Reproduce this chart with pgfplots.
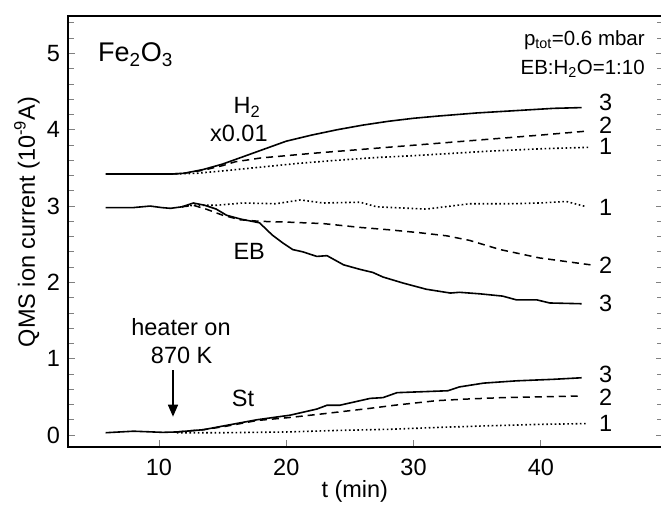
\documentclass[border=0pt]{standalone}
\usepackage{fontspec}
\setmainfont{Liberation Sans}
\usepackage{pgfplots}
\pgfplotsset{compat=1.18}
\usetikzlibrary{arrows.meta}
\begin{document}
\fontsize{23.5}{28}\selectfont
\begin{tikzpicture}
\useasboundingbox (-68pt,-59pt) rectangle (593pt,447pt);
\begin{axis}[at={(0,0)}, anchor=south west, width=595pt, height=431pt, scale only axis,
  xmin=2.85, xmax=49.6, ymin=-0.157, ymax=5.49,
  xtick={10,20,30,40}, ytick={0,1,2,3,4,5},
  minor ytick={0.2,0.4,0.6,0.8,1.2,1.4,1.6,1.8,2.2,2.4,2.6,2.8,3.2,3.4,3.6,3.8,4.2,4.4,4.6,4.8,5.2,5.4},
  xtick pos=left, ytick pos=both, tick align=inside,
  major tick length=7pt, minor tick length=6pt,
  tick style={gray, line width=0.8pt},
  axis line style={line width=1.8pt},
  xticklabel style={yshift=-4pt},
  /pgf/number format/assume math mode=true,
  xlabel={t (min)}, ylabel={QMS ion current (10\textsuperscript{-9}A)},
  xlabel style={at={(axis description cs:0.482,-0.104)}, anchor=center},
  ylabel style={at={(axis description cs:-0.069,0.522)}, anchor=center},
  clip=false]
% H2 x0.01
\addplot[black, line width=1.6pt] coordinates {(5.8,3.42)(11,3.42)(12,3.43)(13.5,3.48)(15,3.55)(16.5,3.64)(18,3.73)(20,3.85)(22,3.93)(24,4.0)(26,4.06)(28,4.11)(30,4.15)(32,4.18)(35,4.22)(38,4.25)(41,4.28)(43.2,4.29)};
\addplot[black, line width=1.5pt, dash pattern=on 7pt off 5pt] coordinates {(11,3.42)(12,3.43)(13.5,3.47)(15,3.53)(16,3.58)(18,3.63)(20,3.66)(22,3.69)(25,3.73)(28,3.77)(31,3.81)(34,3.85)(37,3.89)(40,3.93)(43.5,3.98)};
\addplot[black, line width=1.6pt, dash pattern=on 1.6pt off 2.6pt] coordinates {(11,3.42)(13,3.43)(15,3.46)(18,3.51)(21,3.56)(24,3.60)(27,3.635)(30,3.66)(33,3.69)(36,3.72)(40,3.75)(43.9,3.77)};
% EB
\addplot[black, line width=1.6pt] coordinates {(5.8,2.98)(8,2.98)(9.3,3.0)(10.2,2.98)(10.9,2.97)(11.8,2.99)(12.7,3.04)(13.6,3.01)(14.5,2.96)(15.3,2.88)(16.4,2.83)(17.9,2.78)(18.9,2.62)(19.7,2.52)(20.5,2.43)(21.3,2.40)(22.4,2.34)(23.2,2.35)(24.5,2.23)(25.8,2.17)(26.8,2.13)(27.6,2.07)(29.2,1.99)(31,1.91)(32.9,1.86)(33.6,1.87)(35.2,1.85)(37,1.82)(38.1,1.77)(39.7,1.77)(40.7,1.73)(43.2,1.72)};
\addplot[black, line width=1.5pt, dash pattern=on 7pt off 5pt] coordinates {(11.8,2.99)(12.7,3.01)(13.7,2.96)(15,2.88)(16.4,2.82)(17.9,2.80)(20,2.79)(22.9,2.77)(25.8,2.72)(28,2.69)(30.5,2.65)(32.6,2.61)(34.4,2.55)(36.8,2.43)(39.9,2.32)(43.9,2.23)};
\addplot[black, line width=1.6pt, dash pattern=on 1.6pt off 2.6pt] coordinates {(11.8,2.99)(12.7,3.01)(14.5,3.01)(16.6,3.04)(19.2,3.03)(21.1,3.08)(22.9,3.04)(25.8,3.05)(27.1,2.99)(31,2.96)(34.4,3.03)(37.6,3.03)(39.9,3.04)(42,3.06)(43.6,2.99)};
% St
\addplot[black, line width=1.6pt] coordinates {(5.8,0.03)(8,0.05)(10.3,0.035)(11.4,0.04)(13.5,0.07)(15.1,0.12)(17.7,0.20)(20.3,0.26)(22.4,0.34)(23.2,0.39)(24.2,0.39)(26.6,0.48)(27.6,0.49)(28.7,0.555)(32.7,0.58)(33.6,0.63)(35.5,0.68)(38.1,0.71)(41,0.73)(43.2,0.75)};
\addplot[black, line width=1.5pt, dash pattern=on 7pt off 5pt] coordinates {(11.4,0.04)(13.5,0.07)(15.1,0.11)(17.7,0.19)(20.3,0.23)(23,0.28)(26.6,0.35)(28.5,0.39)(31.8,0.45)(34,0.47)(37,0.49)(40,0.50)(42.9,0.51)};
\addplot[black, line width=1.6pt, dash pattern=on 1.6pt off 2.6pt] coordinates {(11.4,0.03)(15,0.03)(20,0.04)(24,0.06)(28.1,0.075)(32,0.1)(35.7,0.12)(40,0.14)(43.7,0.15)};
% annotations
\node[anchor=base west, inner sep=0pt, font=\fontsize{27}{32}\selectfont] at (axis cs:5.21,4.89) {Fe\textsubscript{2}O\textsubscript{3}};
\node[anchor=base east, inner sep=0pt, font=\fontsize{20.5}{24}\selectfont] at (axis cs:48.18,5.11) {p\textsubscript{tot}=0.6 mbar};
\node[anchor=base east, inner sep=0pt, font=\fontsize{20.5}{24}\selectfont] at (axis cs:48.18,4.72) {EB:H\textsubscript{2}O=1:10};
\node[anchor=base west, inner sep=0pt] at (axis cs:15.84,4.21) {H\textsubscript{2}};
\node[anchor=base west, inner sep=0pt] at (axis cs:14.0,3.85) {x0.01};
\node[anchor=base west, inner sep=0pt] at (axis cs:15.84,2.30) {EB};
\node[anchor=base, inner sep=0pt] at (axis cs:11.73,1.31) {heater on};
\node[anchor=base, inner sep=0pt] at (axis cs:11.78,0.94) {870 K};
\node[anchor=base west, inner sep=0pt] at (axis cs:15.71,0.38) {St};
\draw[line width=1.6pt, -{Triangle[length=12pt,width=10pt]}] (axis cs:11.1,0.85) -- (axis cs:11.1,0.24);
\node[inner sep=0pt] at (axis cs:45.1,4.36) {3};
\node[inner sep=0pt] at (axis cs:45.1,4.06) {2};
\node[inner sep=0pt] at (axis cs:45.1,3.78) {1};
\node[inner sep=0pt] at (axis cs:45.1,2.98) {1};
\node[inner sep=0pt] at (axis cs:45.1,2.23) {2};
\node[inner sep=0pt] at (axis cs:45.1,1.73) {3};
\node[inner sep=0pt] at (axis cs:45.1,0.795) {3};
\node[inner sep=0pt] at (axis cs:45.1,0.50) {2};
\node[inner sep=0pt] at (axis cs:45.1,0.15) {1};
\end{axis}
\end{tikzpicture}
\end{document}
